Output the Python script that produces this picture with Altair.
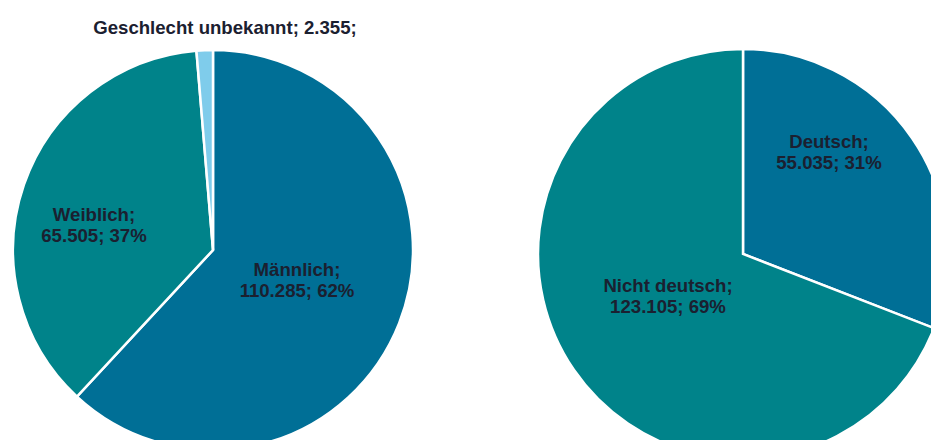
import altair as alt
import pandas as pd

# --- data ---
gender_cats = ["Männlich", "Weiblich", "Geschlecht unbekannt"]
gender_vals = [110285, 65505, 2355]
nat_cats = ["Deutsch", "Nicht deutsch"]
nat_vals = [55035, 123105]

colors = {
    "Männlich": "#006f96",
    "Weiblich": "#00838a",
    "Geschlecht unbekannt": "#7fcceb",
    "Deutsch": "#006f96",
    "Nicht deutsch": "#00838a",
}


def de_num(v):
    return f"{v:,}".replace(",", ".")


def make_labels(cats, vals):
    total = sum(vals)
    out = {}
    for c, v in zip(cats, vals):
        pct = round(v / total * 100)
        out[c] = f"{c};\n{de_num(v)}; {pct}%"
    return out


g_labels = make_labels(gender_cats, gender_vals)
# the small slice's label is shown on one line and its percentage is cut off
g_labels["Geschlecht unbekannt"] = f"Geschlecht unbekannt; {de_num(gender_vals[2])};"
n_labels = make_labels(nat_cats, nat_vals)

g_df = pd.DataFrame({"cat": gender_cats, "val": gender_vals, "ord": list(range(len(gender_cats)))})
n_df = pd.DataFrame({"cat": nat_cats, "val": nat_vals, "ord": list(range(len(nat_cats)))})

color_scale = alt.Scale(domain=list(colors.keys()), range=list(colors.values()))

# --- layout (pixels in the chart; y = centre of first text line) ---
LEFT_C = (205, 242, 200)
RIGHT_C = (735, 246, 205)
label_pos = {
    "Geschlecht unbekannt": (217, 20),
    "Weiblich": (86, 207),
    "Männlich": (289, 262),
    "Deutsch": (821, 134),
    "Nicht deutsch": (660, 278),
}


def pie(df, center):
    cx, cy, r = center
    return alt.Chart(df).mark_arc(radius=r, stroke="white", strokeWidth=2.5).encode(
        theta=alt.Theta("val:Q", stack=True),
        order=alt.Order("ord:Q"),
        color=alt.Color("cat:N", scale=color_scale, legend=None),
        x=alt.value(cx),
        y=alt.value(cy),
    )


def label(text, pos):
    return alt.Chart(pd.DataFrame({"t": [text]})).mark_text(
        font="Liberation Sans",
        fontWeight="bold",
        fontSize=18.6,
        lineHeight=20.5,
        lineBreak="\n",
        align="center",
        baseline="middle",
        color="#1b2030",
    ).encode(text="t:N", x=alt.value(pos[0]), y=alt.value(pos[1]))


layers = [pie(g_df, LEFT_C), pie(n_df, RIGHT_C)]
for c in gender_cats:
    layers.append(label(g_labels[c], label_pos[c]))
for c in nat_cats:
    layers.append(label(n_labels[c], label_pos[c]))

chart = alt.layer(*layers).resolve_scale(theta="independent").properties(
    width=923, height=432, padding=0, autosize=alt.AutoSizeParams(type="none")
).configure_view(stroke=None)

chart.save("out.html", embed_options={"renderer": "svg", "actions": False})
